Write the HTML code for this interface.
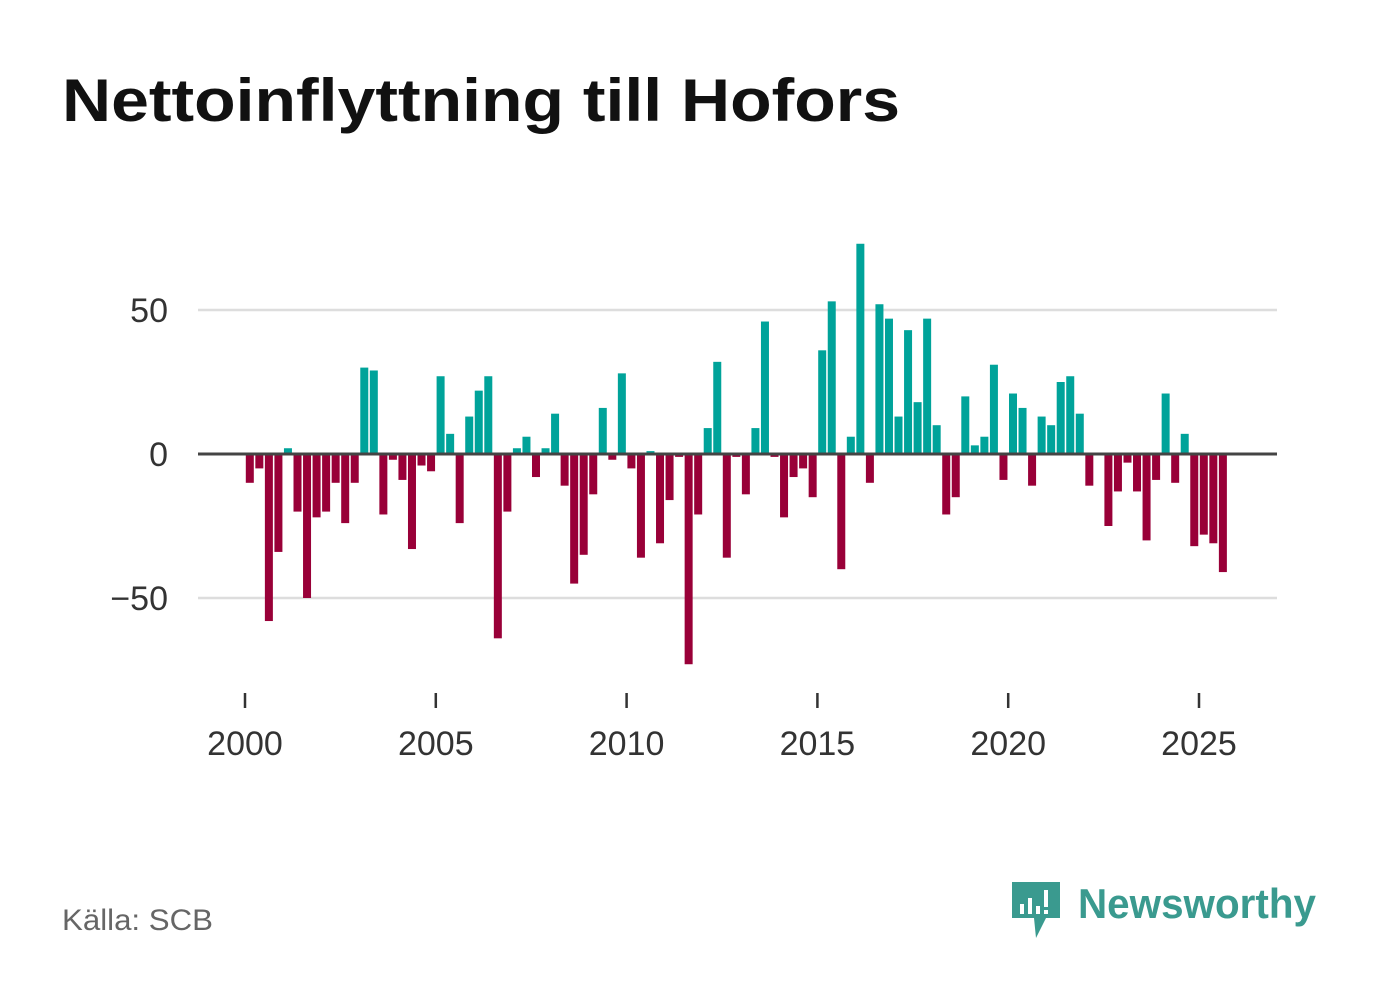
<!DOCTYPE html>
<html><head><meta charset="utf-8"><style>
body{margin:0;background:#fff;width:1382px;height:999px;overflow:hidden;font-family:"Liberation Sans","DejaVu Sans",sans-serif;}
</style></head><body>
<svg width="1382" height="999">
<text x="62" y="121" font-size="60" font-weight="bold" fill="#111" textLength="838" lengthAdjust="spacingAndGlyphs">Nettoinflyttning till Hofors</text>
<g id="grid"></g><g id="bars"></g><g id="axis"></g>
<text x="62" y="930" font-size="30" fill="#666" textLength="151" lengthAdjust="spacingAndGlyphs">Källa: SCB</text>
<g>
<path d="M1012 882 h48 v36 h-14 l-10 20 l-2 -20 h-22 z" fill="#3a9a8f"/>
<rect x="1020" y="904" width="4" height="10" fill="#fff"/><rect x="1028" y="898" width="4" height="16" fill="#fff"/><rect x="1036" y="906" width="4" height="8" fill="#fff"/><rect x="1044" y="890" width="4" height="17" fill="#fff"/><rect x="1044" y="910" width="4" height="4" fill="#fff"/>
<text x="1078" y="918" font-size="42" font-weight="bold" fill="#3a9a8f" textLength="238" lengthAdjust="spacingAndGlyphs">Newsworthy</text>
</g>
</svg>
<script>
const startYear = 2000;
const values = [
-10,-5,-58,-34, 2,-20,-50,-22, -20,-10,-24,-10, 30,29,-21,-2, -9,-33,-4,-6,
27,7,-24,13, 22,27,-64,-20, 2,6,-8,2, 14,-11,-45,-35, -14,16,-2,28,
-5,-36,1,-31, -16,-1,-73,-21, 9,32,-36,-1, -14,9,46,-1, -22,-8,-5,-15,
36,53,-40,6, 73,-10,52,47, 13,43,18,47, 10,-21,-15,20, 3,6,31,-9,
21,16,-11,13, 10,25,27,14, -11,0,-25,-13, -3,-13,-30,-9, 21,-10,7,-32,
-28,-31,-41];
const yTicks = [50,0,-50];
const yTickLabels = ["50","0","−50"];
const xTicks = [2000,2005,2010,2015,2020,2025];
const NS="http://www.w3.org/2000/svg";
function x(t){return 245+(t-2000)*38.16;}
function y(v){return 454-v*2.88;}
function mk(tag,attrs,parent){const e=document.createElementNS(NS,tag);for(const k in attrs)e.setAttribute(k,attrs[k]);document.getElementById(parent).appendChild(e);return e;}
yTicks.forEach((v,i)=>{
 if(v!==0){const l=mk('line',{x1:198,x2:1277,y1:y(v),y2:y(v),stroke:'#ddd','stroke-width':2.5},'grid');
 
 }
 const t=mk('text',{x:168,y:y(v)+12,'font-size':34,fill:'#333','text-anchor':'end'},'axis');
 t.textContent=yTickLabels[i];
 
 
});
values.forEach((v,i)=>{
 const t=startYear+i/4;
 const cx=x(t)+4.8;
 const r=mk('rect',{x:cx-4,width:8,y:Math.min(y(v),y(0)),height:Math.abs(y(v)-y(0)),fill:v>=0?'#00a39a':'#990038'},'bars');
 
 
});
const zl=mk('line',{x1:198,x2:1277,y1:y(0),y2:y(0),stroke:'#444','stroke-width':3},'axis');


xTicks.forEach(yr=>{
 const tk=mk('line',{x1:x(yr),x2:x(yr),y1:693,y2:708,stroke:'#333','stroke-width':2.5},'axis');
 
 
 const t=mk('text',{x:x(yr),y:755,'font-size':34,fill:'#333','text-anchor':'middle'},'axis');
 t.textContent=yr;
 
 
});
</script>
</body></html>
